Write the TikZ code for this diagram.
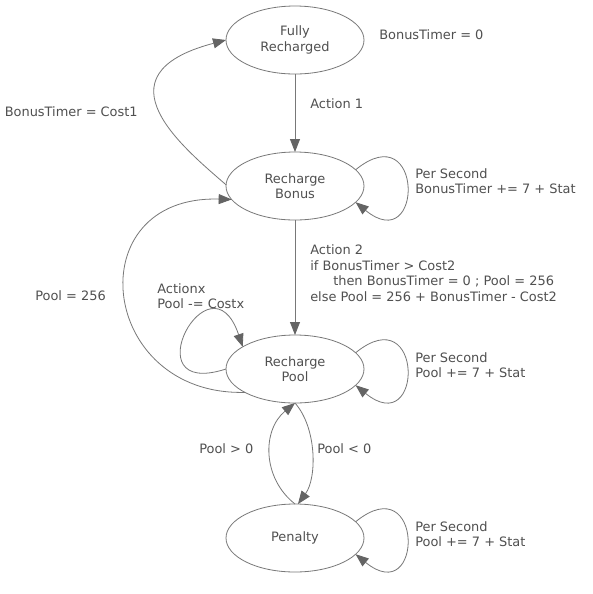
\documentclass[tikz,border=0pt]{standalone}
\usepackage{fontspec}
\setmainfont{DejaVu Sans}
\usetikzlibrary{arrows.meta,shapes.geometric}
\definecolor{linegray}{RGB}{120,120,120}
\definecolor{tipgray}{RGB}{100,100,100}
\definecolor{textgray}{RGB}{80,80,80}
\tikzset{
  state/.style={ellipse,draw=linegray,line width=0.6pt,minimum width=103.5pt,minimum height=51pt,inner sep=0pt,outer sep=0pt,align=center,text=textgray},
  lbl/.style={anchor=west,inner sep=0pt,align=left,text=textgray},
  edge/.style={draw=linegray,line width=0.6pt,-{Triangle[length=9.75pt,width=7.5pt,color=tipgray]}},
}
\begin{document}
\begin{tikzpicture}[x=0.75pt,y=-0.75pt,font=\fontsize{9.7}{11.6}\selectfont]
\path[use as bounding box,fill=white] (0,0) rectangle (593,594);
% states
\node[state] (fr) at (295,40) {Fully\\Recharged};
\node[state] (rb) at (295,186) {Recharge\\Bonus};
\node[state] (rp) at (295,369) {Recharge\\Pool};
\node[state] (pe) at (295,538) {Penalty};
% labels
\node[lbl] (l0) at (379,35) {BonusTimer = 0};
\node[lbl] (l1) at (310,104) {Action 1};
\node[lbl] (l2) at (4.5,112) {BonusTimer = Cost1};
\node[lbl] (l3) at (415,181) {Per Second\\BonusTimer += 7 + Stat};
\node[lbl] (l4) at (310,273) {Action 2\\if BonusTimer > Cost2\\\hspace*{17.25pt}then BonusTimer = 0 ; Pool = 256\\else Pool = 256 + BonusTimer - Cost2};
\node[lbl] (l5) at (35,296) {Pool = 256};
\node[lbl] (l6) at (157,296) {Actionx\\Pool -= Costx};
\node[lbl] (l7) at (415,365) {Per Second\\Pool += 7 + Stat};
\node[lbl] (l8) at (199,449) {Pool > 0};
\node[lbl] (l9) at (317,449) {Pool < 0};
\node[lbl] (l10) at (415,534) {Per Second\\Pool += 7 + Stat};
% edges
\draw[edge] (fr.south) -- (rb.north);
\draw[edge] (rb.south) -- (rp.north);
\draw[edge] (rb.179) .. controls (185,149) and (93,75) .. (fr.west);
\draw[edge] (rp.205) .. controls (98,396) and (77,195) .. (rb.192);
\draw[edge] (rp.west) .. controls (130,400) and (210,250) .. (rp.157);
\draw[edge] (rb.15) .. controls (424,114) and (424,258) .. (rb.-15);
\draw[edge] (rp.15) .. controls (424,297) and (424,441) .. (rp.-15);
\draw[edge] (pe.15) .. controls (424,466) and (424,610) .. (pe.-15);
\draw[edge] (pe.north) .. controls (262,478) and (262,430) .. (rp.south);
\draw[edge] (rp.south) .. controls (317,428) and (317,478) .. (pe.85);
\end{tikzpicture}
\end{document}
